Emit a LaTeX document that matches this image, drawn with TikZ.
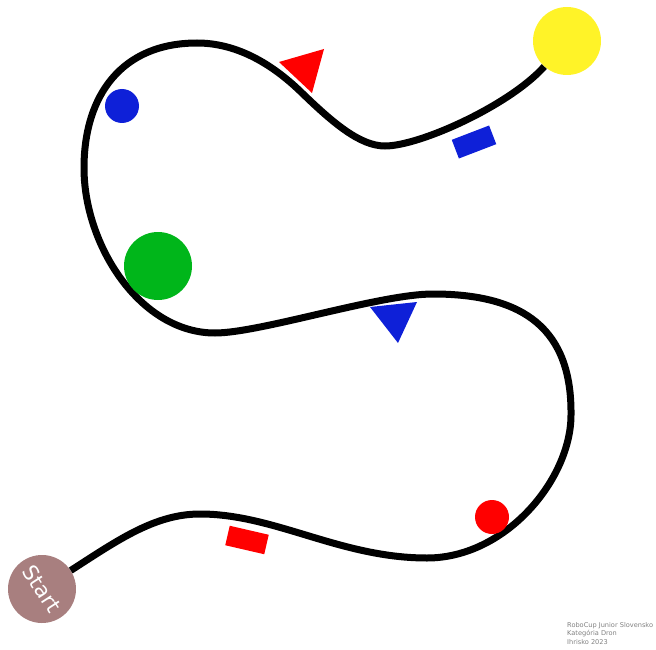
\documentclass[tikz,border=0pt]{standalone}
\usepackage{fontspec}
\usepackage{tikz}
\usepackage{xcolor}
\newfontfamily\mapfont{DejaVu Sans}

\definecolor{objblue}{RGB}{14,32,216}
\definecolor{objred}{RGB}{255,0,0}
\definecolor{objgreen}{RGB}{0,182,26}
\definecolor{objyellow}{RGB}{255,243,40}
\definecolor{startbrown}{RGB}{168,127,127}

\begin{document}
\begin{tikzpicture}[x=1pt, y=-1pt]
    % Style definitions
    \tikzset{
        track/.style={black, line width=7pt},
        disc/.style={circle, inner sep=0pt, draw=none},
        block/.style={rectangle, inner sep=0pt, minimum width=40pt, minimum height=20pt, draw=none}
    }
    \useasboundingbox (0,0) rectangle (656,650);

    % ==========================================
    % START AND FINISH
    % ==========================================
    \node[disc, fill=startbrown, minimum size=68pt, rotate=-57, text=white,
          font=\mapfont\fontsize{21}{21}\selectfont] (start) at (42,589) {Start};
    \node[disc, fill=objyellow, minimum size=68pt] (finish) at (567,41) {};

    % ==========================================
    % TRACK (start -> finish)
    % ==========================================
    \draw[track] (start) .. controls (118,540) and (155,514) .. (200,514)
        .. controls (275,514) and (340,558) .. (427,558)
        .. controls (506,558) and (571,479) .. (571,415)
        .. controls (572,330) and (525,294) .. (433,294)
        .. controls (380,294) and (260,333) .. (215,333)
        .. controls (140,333) and (84,245) .. (84,168)
        .. controls (84,95) and (122,43) .. (197,43)
        .. controls (235,43) and (270,62) .. (301,92)
        .. controls (333,123) and (360,146) .. (385,146)
        .. controls (420,146) and (510,105) .. (finish);

    % Circles
    \node[disc, fill=objblue, minimum size=34pt] (bluedisc) at (122,106) {};
    \node[disc, fill=objgreen, minimum size=68pt] (greendisc) at (158,266) {};
    \node[disc, fill=objred, minimum size=34pt] (reddisc) at (492,517) {};

    % Rectangles
    \node[block, fill=objred, rotate=-13] (redblock) at (247,540) {};
    \node[block, fill=objblue, rotate=21] (blueblock) at (474,142) {};

    % Triangles
    \fill[objred] (279,62) -- (324,49) -- (312,93) -- cycle;
    \fill[objblue] (370,307) -- (417,302) -- (398,343) -- cycle;

    % Caption
    \node[anchor=north west, inner sep=0pt, align=left, text=gray,
          font=\mapfont\fontsize{6.6}{8.5}\selectfont] (caption) at (567,622)
        {RoboCup Junior Slovensko\\Kategória Dron\\Ihrisko 2023};
\end{tikzpicture}
\end{document}
